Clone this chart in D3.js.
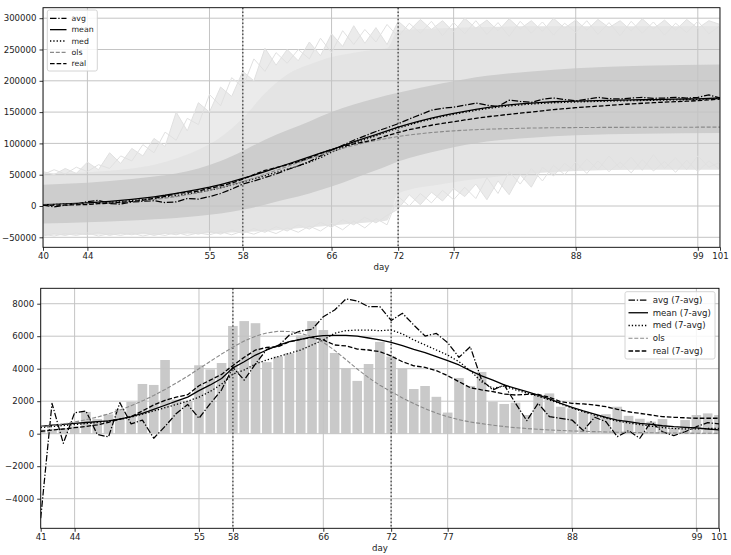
<!DOCTYPE html>
<html>
<head>
<meta charset="utf-8">
<script src="https://cdn.jsdelivr.net/npm/d3@7"></script>
<style>
  body { margin: 0; background: #fff; }
  svg { display: block; font-family: "DejaVu Sans", sans-serif; }
</style>
</head>
<body>
<svg id="chart" width="731" height="555"></svg>
<script>
// ---------- cumulative panel (days 40..101) ----------
const topDays = d3.range(40, 102);
const topAvg = [1500, -1500, 1500, 3000, 7000, 9000, 4000, 3000, 6500, 7500,
  8500, 5500, 6500, 12000, 11000, 15000, 20000, 27000, 35000, 40000,
  45500, 51000, 58000, 64000, 71000, 80000, 89000, 97000, 105000, 112000,
  119000, 125000, 131500, 139000, 146000, 153000, 156000, 158000, 161000, 164500,
  161000, 159000, 169000, 167000, 165500, 170500, 172500, 170000, 168000, 170500,
  173500, 171500, 171000, 172500, 173500, 172000, 172500, 173500, 172500, 173500,
  177500, 172500];
const topMean = [2000, 2700, 3400, 4100, 5000, 6100, 7400, 8900, 10600, 12500,
  14700, 17200, 20100, 23200, 26500, 30000, 34300, 38900, 44000, 49500,
  55000, 60800, 66700, 72600, 78500, 84300, 90000, 96200, 102300, 108300,
  114200, 120100, 126000, 131000, 135800, 140200, 144300, 148000, 151300, 154300,
  157000, 159400, 161400, 163100, 164500, 165600, 166500, 167100, 167600, 168000,
  168400, 168800, 169100, 169400, 169700, 170000, 170300, 170600, 170900, 171200,
  171800, 172500];
const topMed = [1800, 2400, 3000, 3600, 4300, 5100, 6100, 7300, 8700, 10300,
  12200, 14300, 16700, 19300, 22100, 25300, 29000, 33500, 38500, 43500,
  48500, 53500, 58500, 64000, 70000, 77000, 86000, 93000, 100000, 106000,
  112000, 118500, 124500, 129500, 134500, 139000, 143000, 146500, 149800, 152800,
  155500, 157800, 159800, 161500, 162900, 164000, 164900, 165600, 166200, 166700,
  167100, 167500, 167900, 168300, 168600, 168900, 169200, 169500, 169800, 170200,
  171000, 172000];
const topOls = [1500, 1900, 2300, 2800, 3400, 4100, 4900, 6000, 7200, 8700,
  10500, 12600, 15000, 17900, 21200, 24900, 29200, 33900, 39100, 44600,
  50600, 56700, 63000, 69300, 75400, 81400, 86900, 92100, 96800, 101100,
  104800, 108100, 111000, 113400, 115500, 117300, 118800, 120000, 121100, 121900,
  122700, 123200, 123700, 124100, 124500, 124800, 125000, 125200, 125300, 125400,
  125500, 125600, 125650, 125700, 125750, 125800, 125850, 125880, 125900, 125920,
  125940, 125950];
const topReal = [1000, 1250, 1550, 1900, 2350, 3700, 4600, 5800, 7300, 9250,
  12300, 15300, 19850, 21950, 23950, 28150, 32100, 36450, 43100, 50000,
  56800, 61200, 65950, 70900, 76950, 83900, 90250, 95200, 99250, 102500,
  106800, 112450, 117500, 122000, 125500, 129000, 132000, 134500, 137500, 140000,
  142500, 144500, 146500, 148500, 150000, 152000, 154000, 155500, 157000, 158300,
  159500, 160700, 162000, 163100, 164100, 165000, 165900, 166600, 167400, 168300,
  169500, 170800];

// simulated trajectories at the edges of the spread
const simUpperA = [55000, 50000, 60000, 52000, 70000, 58000, 85000, 68000, 92000, 80000,
  108000, 95000, 150000, 120000, 165000, 150000, 190000, 175000, 215000, 200000,
  252000, 225000, 250000, 232000, 262000, 240000, 275000, 255000, 288000, 260000,
  285000, 258000, 295000, 280000, 298000, 282000, 296000, 278000, 300000, 284000,
  297000, 280000, 299000, 283000, 296000, 279000, 300000, 284000, 297000, 281000,
  298000, 285000, 296000, 280000, 299000, 283000, 297000, 281000, 298000, 284000,
  296000, 290000];
const simUpperB = [50000, 58000, 51000, 62000, 55000, 66000, 60000, 80000, 72000, 98000,
  85000, 118000, 105000, 140000, 130000, 178000, 160000, 205000, 190000, 235000,
  215000, 245000, 228000, 250000, 235000, 268000, 245000, 280000, 258000, 282000,
  262000, 290000, 270000, 292000, 276000, 295000, 272000, 293000, 275000, 296000,
  274000, 293000, 271000, 295000, 276000, 294000, 273000, 292000, 277000, 296000,
  274000, 293000, 272000, 295000, 276000, 294000, 273000, 292000, 277000, 295000,
  275000, 288000];
const simLowerA = [-45000, -48000, -44000, -47000, -43000, -48000, -44000, -47000, -43000, -48000,
  -44000, -47000, -42000, -47000, -43000, -46000, -41000, -46000, -40000, -45000,
  -38000, -44000, -35000, -42000, -32000, -40000, -28000, -38000, -24000, -35000,
  -20000, -30000, 15000, 0, 20000, 5000, 25000, 10000, 30000, 12000,
  45000, 20000, 55000, 35000, 60000, 40000, 65000, 50000, 70000, 52000,
  72000, 55000, 70000, 53000, 74000, 56000, 71000, 54000, 73000, 55000,
  72000, 58000];
const simLowerB = [-48000, -44000, -47000, -43000, -46000, -42000, -47000, -43000, -46000, -42000,
  -47000, -43000, -46000, -41000, -45000, -40000, -45000, -38000, -44000, -36000,
  -42000, -33000, -40000, -30000, -37000, -26000, -34000, -22000, -30000, -18000,
  -27000, -15000, -5000, 18000, 2000, 22000, 8000, 28000, 15000, 35000,
  10000, 40000, 18000, 50000, 30000, 62000, 48000, 68000, 55000, 75000,
  58000, 80000, 60000, 78000, 57000, 82000, 60000, 77000, 58000, 80000,
  62000, 70000];

// spread bands
const bandDays = [40, 44, 48, 50, 52, 54, 56, 58, 60, 62, 64, 66, 68, 70, 71, 72, 76, 80, 84, 88, 94, 101];
const outerHi = [52000, 54000, 60000, 66000, 76000, 90000, 110000, 140000, 180000, 210000, 226000,
  238000, 245000, 250000, 252000, 280000, 284000, 286000, 287000, 287000, 287000, 287000];
const outerLo = [-46000, -46000, -45000, -45000, -44500, -44000, -43000, -42000, -40000, -37000, -34000,
  -31000, -28000, -25000, -23000, 20000, 35000, 45000, 52000, 56000, 58000, 58000];
const innerHi = [34000, 37000, 43000, 47000, 52000, 60000, 72000, 88000, 106000, 121000, 135000,
  150000, 162000, 172000, 177000, 181000, 196000, 208000, 215000, 220000, 224000, 226000];
const innerLo = [-28000, -26000, -23000, -21000, -19000, -16000, -12000, -6000, 2000, 11000, 20000,
  31000, 44000, 57000, 64000, 71000, 90000, 103000, 109000, 113000, 115500, 116500];

// ---------- daily panel (days 41..101) ----------
const botDays = d3.range(41, 102);
const dailyReal = [250, 300, 350, 450, 1340, 900, 1190, 1520, 1950, 3060,
  3000, 4535, 2100, 2000, 4210, 3960, 4350, 6630, 6930, 6800,
  4400, 4750, 4950, 6050, 6930, 6380, 4970, 4020, 3250, 4290,
  5650, 4750, 4000, 2750, 2935, 2270, 1300, 3430, 2940, 3800,
  1970, 1830, 1910, 1150, 2380, 2480, 1660, 1560, 1350, 1150,
  1200, 1660, 1100, 920, 740, 900, 350, 840, 1150, 1250, 1150];
const botAvg = [-5200, 1870, -590, 1290, 1400, -40, -200, 1910, 600, 840,
  -280, 450, 1250, 1800, 950, 1850, 2700, 4080, 3300, 4300,
  5190, 5400, 6070, 6320, 6420, 7200, 7610, 8290, 8170, 7820,
  7820, 6970, 7410, 6690, 6010, 6170, 5600, 4700, 5350, 3300,
  2690, 3000, 1870, 800, 1870, 1050, 950, 840, 190, 1010,
  740, -180, 190, -280, 740, 120, -120, 120, 430, 680, 600];
const botMean = [450, 520, 580, 640, 690, 740, 790, 900, 1050, 1250,
  1500, 1750, 2000, 2250, 2650, 3000, 3400, 4050, 4430, 4840,
  5150, 5440, 5660, 5810, 5960, 6040, 6050, 6050, 6010, 5890,
  5770, 5620, 5420, 5190, 4990, 4740, 4500, 4230, 3880, 3560,
  3300, 3000, 2790, 2590, 2380, 2140, 1870, 1620, 1400, 1210,
  1010, 840, 740, 640, 580, 490, 430, 390, 360, 290, 230];
const botMed = [380, 440, 500, 560, 620, 690, 770, 880, 1020, 1200,
  1400, 1600, 1800, 2000, 2250, 2600, 3050, 3670, 3920, 4290,
  4540, 4740, 4950, 5150, 5460, 5770, 6180, 6340, 6380, 6380,
  6340, 6380, 6140, 5770, 5460, 5150, 4840, 4430, 3880, 3200,
  2790, 2935, 2700, 2500, 2300, 2080, 1830, 1580, 1350, 1150,
  950, 780, 660, 560, 460, 380, 320, 290, 300, 320, 330];
const botOls = [430, 500, 600, 720, 860, 1020, 1220, 1450, 1720, 2020,
  2350, 2720, 3120, 3540, 4000, 4450, 4900, 5330, 5700, 6000,
  6200, 6300, 6290, 6180, 5950, 5620, 5130, 4560, 3980, 3450,
  2980, 2590, 2200, 1860, 1540, 1270, 1040, 860, 720, 620,
  520, 440, 370, 320, 270, 230, 200, 170, 145, 125,
  105, 90, 78, 66, 56, 48, 41, 35, 30, 26, 22];
const botReal = [150, 220, 290, 370, 450, 540, 700, 900, 1050, 1400,
  1770, 2050, 2250, 2400, 2950, 3300, 3650, 4200, 4700, 5150,
  5310, 5350, 5660, 5810, 5930, 5770, 5460, 5400, 5210, 5150,
  5050, 4780, 4430, 4180, 4080, 3880, 3570, 3200, 2830, 2700,
  2590, 2440, 2380, 2420, 2420, 2240, 1970, 1870, 1830, 1770,
  1660, 1500, 1350, 1250, 1150, 1050, 1010, 980, 950, 950, 950];

// ticks and markers
const topXTicks = [40, 44, 55, 58, 66, 72, 77, 88, 99, 101];
const botXTicks = [41, 44, 55, 58, 66, 72, 77, 88, 99, 101];
const topYTicks = [-50000, 0, 50000, 100000, 150000, 200000, 250000, 300000];
const botYTicks = [-4000, -2000, 0, 2000, 4000, 6000, 8000];
const markerDays = [58, 72];

const topNames = ["avg", "mean", "med", "ols", "real"];
const botNames = ["avg (7-avg)", "mean (7-avg)", "med (7-avg)", "ols", "real (7-avg)"];

// line styles per series
const styles = [
  { stroke: "#000", width: 1.25, dash: "6.5,1.8,1.3,1.8" },
  { stroke: "#000", width: 1.3, dash: null },
  { stroke: "#000", width: 1.3, dash: "1.3,2" },
  { stroke: "#8a8a8a", width: 1.1, dash: "4,1.8" },
  { stroke: "#000", width: 1.3, dash: "4.6,2" }
];

const svg = d3.select("#chart");
const FONT = 8.6;
const GRID = "#c4c4c4";

function frameAndAxes(g, x, y, xticks, yticks, box) {
  const gx = g.append("g").attr("transform", `translate(0,${box.b})`)
    .call(d3.axisBottom(x).tickValues(xticks).tickSize(3.5).tickPadding(2.5).tickFormat(d3.format("d")));
  const gy = g.append("g").attr("transform", `translate(${box.l},0)`)
    .call(d3.axisLeft(y).tickValues(yticks).tickSize(3.5).tickPadding(3).tickFormat(d3.format("d")));
  [gx, gy].forEach(a => {
    a.select(".domain").remove();
    a.selectAll("line").attr("stroke", "#000").attr("stroke-width", 0.8);
    a.selectAll("text").attr("font-size", FONT).attr("fill", "#222").attr("font-family", "DejaVu Sans");
  });
  g.append("rect").attr("x", box.l).attr("y", box.t)
    .attr("width", box.r - box.l).attr("height", box.b - box.t)
    .attr("fill", "none").attr("stroke", "#000").attr("stroke-width", 0.9);
  g.append("text").attr("x", (box.l + box.r) / 2).attr("y", box.b + 22.5)
    .attr("text-anchor", "middle").attr("font-size", FONT).attr("fill", "#222").text("day");
}

function grid(g, x, y, xticks, yticks, box) {
  g.append("g").selectAll("line").data(xticks).join("line")
    .attr("x1", d => x(d)).attr("x2", d => x(d)).attr("y1", box.t).attr("y2", box.b)
    .attr("stroke", GRID).attr("stroke-width", 1);
  g.append("g").selectAll("line").data(yticks).join("line")
    .attr("x1", box.l).attr("x2", box.r).attr("y1", d => y(d)).attr("y2", d => y(d))
    .attr("stroke", GRID).attr("stroke-width", 1);
}

function markers(g, x, box) {
  g.append("g").selectAll("line").data(markerDays).join("line")
    .attr("x1", d => x(d)).attr("x2", d => x(d)).attr("y1", box.t).attr("y2", box.b)
    .attr("stroke", "#555").attr("stroke-width", 1.5).attr("stroke-dasharray", "1.5,2.2");
}

function series(g, x, y, days, arrays) {
  arrays.forEach((vals, i) => {
    const st = styles[i];
    const line = d3.line().x((d, j) => x(days[j])).y(d => y(d));
    g.append("path").datum(vals).attr("d", line)
      .attr("fill", "none").attr("stroke", st.stroke).attr("stroke-width", st.width)
      .attr("stroke-dasharray", st.dash).attr("stroke-linejoin", "round");
  });
}

function legend(g, names, o) {
  const lg = g.append("g");
  lg.append("rect").attr("x", o.x).attr("y", o.y).attr("width", o.w).attr("height", o.h)
    .attr("rx", 2).attr("fill", "#fff").attr("fill-opacity", 0.85)
    .attr("stroke", "#cfcfcf").attr("stroke-width", 0.9);
  names.forEach((n, i) => {
    const yy = o.y0 + i * o.dy;
    const st = styles[i];
    lg.append("line").attr("x1", o.lx1).attr("x2", o.lx2).attr("y1", yy).attr("y2", yy)
      .attr("stroke", st.stroke).attr("stroke-width", st.width).attr("stroke-dasharray", st.dash);
    lg.append("text").attr("x", o.tx).attr("y", yy).attr("dy", "0.34em")
      .attr("font-size", o.fs).attr("fill", "#222").text(n);
  });
}

// ===== top panel =====
const boxT = { l: 43, r: 720, t: 7.7, b: 247.3 };
const xT = d3.scaleLinear().domain([40, 101]).range([boxT.l, boxT.r]);
const yT = d3.scaleLinear().domain([-65970, 316770]).range([boxT.b, boxT.t]);
const gT = svg.append("g");
svg.append("clipPath").attr("id", "clipT").append("rect")
  .attr("x", boxT.l).attr("y", boxT.t).attr("width", boxT.r - boxT.l).attr("height", boxT.b - boxT.t);
const plotT = gT.append("g").attr("clip-path", "url(#clipT)");

// faint envelope of the simulated runs: from the outermost runs to the mean
const fan = (edge) => d3.area()
  .x((d, j) => xT(topDays[j])).y0((d, j) => yT(topMean[j])).y1(d => yT(d));
plotT.append("path").datum(simUpperA).attr("d", fan(simUpperA)).attr("fill", "#ebebeb");
plotT.append("path").datum(simLowerB).attr("d", fan(simLowerB)).attr("fill", "#ebebeb");

const bandArea = (lo, hi) => d3.area().curve(d3.curveMonotoneX)
  .x((d, j) => xT(bandDays[j])).y0((d, j) => yT(lo[j])).y1((d, j) => yT(hi[j]));
plotT.append("path").datum(outerHi).attr("d", bandArea(outerLo, outerHi)).attr("fill", "#e4e4e4");
plotT.append("path").datum(innerHi).attr("d", bandArea(innerLo, innerHi)).attr("fill", "#cdcdcd");
grid(plotT, xT, yT, topXTicks, topYTicks, boxT);
[simUpperA, simUpperB, simLowerA, simLowerB].forEach(vals => {
  plotT.append("path").datum(vals)
    .attr("d", d3.line().x((d, j) => xT(topDays[j])).y(d => yT(d)))
    .attr("fill", "none").attr("stroke", "#e0e0e0").attr("stroke-width", 1);
});
markers(plotT, xT, boxT);
series(plotT, xT, yT, topDays, [topAvg, topMean, topMed, topOls, topReal]);
frameAndAxes(gT, xT, yT, topXTicks, topYTicks, boxT);
legend(gT, topNames, { x: 47.3, y: 10, w: 50, h: 61, y0: 18.3, dy: 11.35, lx1: 50, lx2: 66.5, tx: 71.5, fs: 7.8 });

// ===== bottom panel =====
const boxB = { l: 40.7, r: 719, t: 288.3, b: 528.3 };
const xB = d3.scaleLinear().domain([41, 101]).range([boxB.l, boxB.r]);
const yB = d3.scaleLinear().domain([-5822, 8948]).range([boxB.b, boxB.t]);
const gB = svg.append("g");
svg.append("clipPath").attr("id", "clipB").append("rect")
  .attr("x", boxB.l).attr("y", boxB.t).attr("width", boxB.r - boxB.l).attr("height", boxB.b - boxB.t);
const plotB = gB.append("g").attr("clip-path", "url(#clipB)");

const barW = (xB(42) - xB(41)) * 0.85;
plotB.append("g").selectAll("rect").data(dailyReal).join("rect")
  .attr("x", (d, j) => xB(botDays[j]) - barW / 2)
  .attr("width", barW)
  .attr("y", d => yB(Math.max(0, d)))
  .attr("height", d => Math.abs(yB(0) - yB(d)))
  .attr("fill", "#c9c9c9");
grid(plotB, xB, yB, botXTicks, botYTicks, boxB);
markers(plotB, xB, boxB);
series(plotB, xB, yB, botDays, [botAvg, botMean, botMed, botOls, botReal]);
frameAndAxes(gB, xB, yB, botXTicks, botYTicks, boxB);
legend(gB, botNames, { x: 625, y: 291.7, w: 90, h: 67.3, y0: 300, dy: 12.75, lx1: 628.5, lx2: 648, tx: 652.7, fs: 8.6 });
</script>
</body>
</html>
